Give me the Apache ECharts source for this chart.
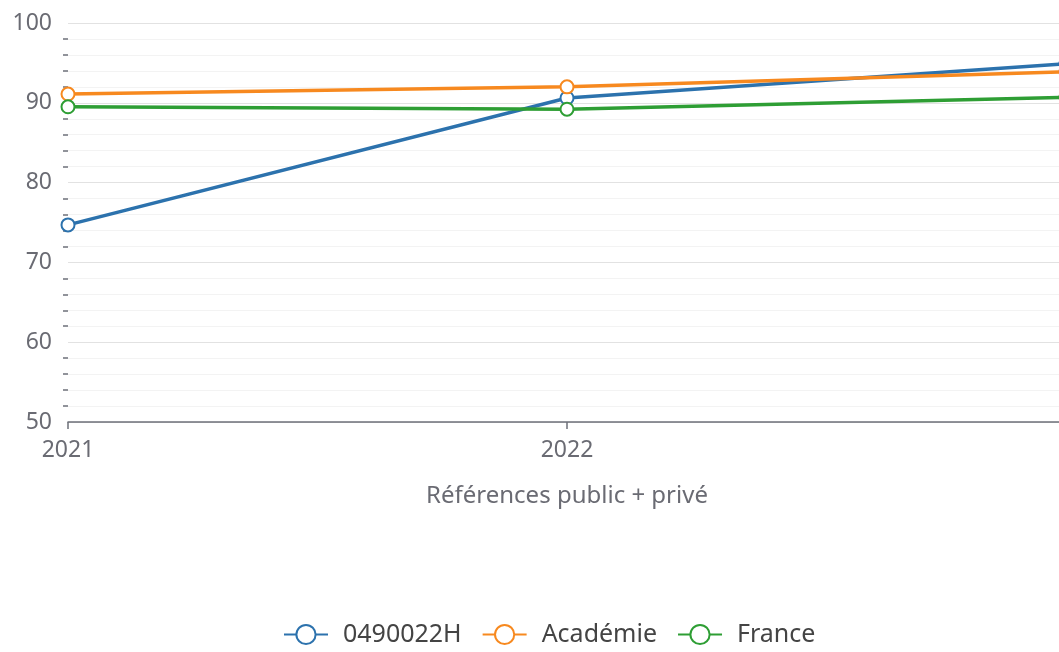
<!DOCTYPE html>
<html>
<head>
<meta charset="utf-8">
<script src="https://cdn.jsdelivr.net/npm/echarts@6/dist/echarts.min.js"></script>
<style>
html,body{margin:0;padding:0;background:#fff;}
#chart{width:1059px;height:652px;}
</style>
</head>
<body>
<div id="chart"></div>
<script>
const categories = ['2021', '2022', '2023'];
const seriesNames = ['0490022H', 'Académie', 'France'];
const valuesEtab = [74.7, 90.6, 94.9];
const valuesAcademie = [91.1, 92.0, 93.9];
const valuesFrance = [89.5, 89.2, 90.7];
const colors = ['#2c72ad', '#f7891f', '#2e9e34'];

const chart = echarts.init(document.getElementById('chart'));
const font = 'Noto Sans';
function mk(name, data, color) {
  return {
    name: name, type: 'line', data: data,
    symbol: 'emptyCircle', symbolSize: 13,
    lineStyle: {width: 3.5, color: color},
    itemStyle: {color: color, borderColor: color, borderWidth: 4},
    emphasis: {disabled: true}
  };
}
chart.setOption({
  animation: false,
  color: colors,
  textStyle: {fontFamily: font},
  grid: {left: 68, right: -7, top: 23, bottom: 230, containLabel: false, outerBoundsMode: 'none'},
  xAxis: {
    type: 'category', data: categories, boundaryGap: false,
    name: 'Références public + privé', nameLocation: 'middle', nameGap: 62,
    nameTextStyle: {fontSize: 24, color: '#6a6b73', fontFamily: font},
    axisLine: {lineStyle: {color: '#6e7079', width: 1.5}},
    axisTick: {length: 7, lineStyle: {color: '#6e7079', width: 1.5}},
    axisLabel: {fontSize: 23, color: '#6a6b73', margin: 17, fontFamily: font,
      formatter: function (v, i) { return i === categories.length - 1 ? '' : v; }}
  },
  yAxis: {
    type: 'value', min: 50, max: 100, interval: 10,
    axisLine: {show: false},
    axisTick: {show: false},
    minorTick: {show: true, splitNumber: 5, length: 5, lineStyle: {color: '#6e7079', width: 1.5}},
    minorSplitLine: {show: true, lineStyle: {color: '#f3f3f3'}},
    splitLine: {lineStyle: {color: '#e2e2e2'}},
    axisLabel: {fontSize: 23, color: '#6a6b73', margin: 16, fontFamily: font}
  },
  legend: {
    bottom: 0, left: 278, itemWidth: 44, itemHeight: 24, itemGap: 20,
    textStyle: {fontSize: 25, color: '#444', fontFamily: font, padding: [0, 0, 0, 10]},
    data: seriesNames
  },
  series: [
    mk(seriesNames[0], valuesEtab, colors[0]),
    mk(seriesNames[1], valuesAcademie, colors[1]),
    mk(seriesNames[2], valuesFrance, colors[2])
  ]
});
</script>
</body>
</html>
